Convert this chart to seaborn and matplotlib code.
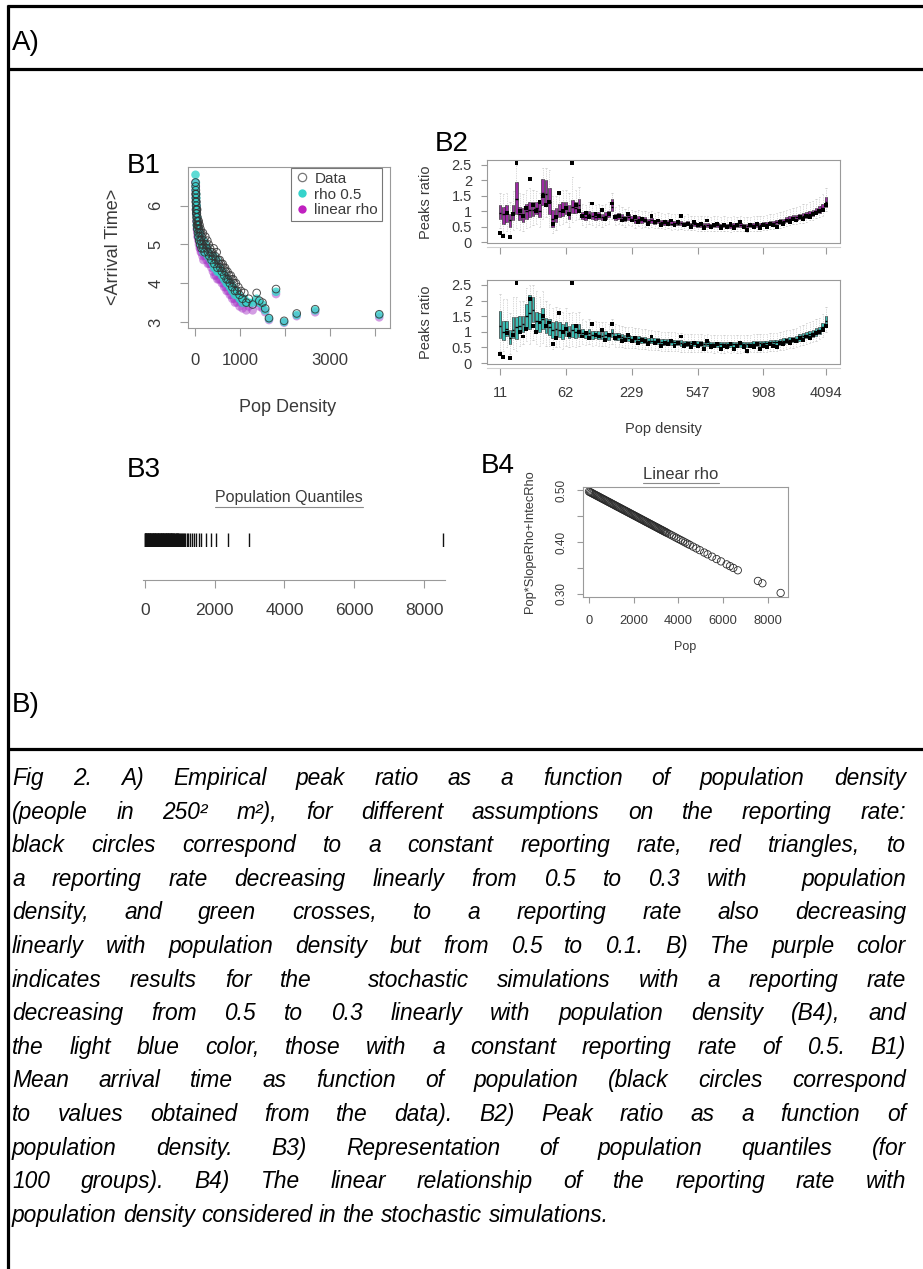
import numpy as np
import pandas as pd
import matplotlib
matplotlib.use("Agg")
import matplotlib.pyplot as plt
import seaborn as sns
from matplotlib.lines import Line2D

# ---------------------------------------------------------------- data
group_index = list(range(1, 101))
density_tick_index = [1, 21, 41, 61, 81, 100]
density_tick_labels = ["11", "62", "229", "547", "908", "4094"]

# B1 : population density of each of the 100 groups and mean arrival time
group_density = [
    11, 13, 15, 17, 19, 21, 23, 25, 27, 29,
    31, 33, 36, 38, 41, 44, 47, 50, 54, 58,
    62, 67, 72, 77, 82, 88, 94, 100, 107, 114,
    121, 129, 137, 146, 155, 165, 175, 186, 197, 213,
    229, 243, 258, 273, 288, 303, 318, 334, 350, 366,
    382, 398, 414, 430, 447, 464, 481, 498, 515, 531,
    547, 563, 579, 596, 613, 630, 648, 666, 684, 702,
    720, 738, 756, 774, 792, 810, 828, 848, 868, 888,
    908, 935, 962, 990, 1020, 1055, 1095, 1140, 1195, 1280,
    1370, 1430, 1500, 1560, 1644, 1800, 1980, 2260, 2670, 4094]
arrival_data = [
    6.6, 6.3, 6.5, 6.1, 6.4, 6.2, 5.9, 6.3, 5.8, 6.0,
    6.1, 5.7, 5.9, 5.6, 5.8, 5.5, 5.9, 5.4, 5.7, 5.5,
    5.6, 5.3, 5.5, 5.2, 5.6, 5.4, 5.1, 5.5, 5.3, 5.0,
    5.4, 5.1, 5.3, 4.9, 5.2, 5.0, 5.3, 4.9, 5.1, 4.8,
    5.2, 5.0, 4.9, 5.1, 4.8, 5.0, 4.7, 4.9, 4.8, 4.6,
    4.8, 4.7, 4.9, 4.5, 4.7, 4.6, 4.8, 4.4, 4.6, 4.5,
    4.6, 4.4, 4.5, 4.3, 4.5, 4.4, 4.2, 4.4, 4.3, 4.1,
    4.3, 4.1, 4.2, 4.0, 4.2, 4.1, 3.9, 4.1, 4.0, 3.8,
    4.0, 3.8, 3.9, 3.7, 3.8, 3.6, 3.75, 3.5, 3.6, 3.45,
    3.75, 3.55, 3.5, 3.35, 3.1, 3.85, 3.03, 3.22, 3.33, 3.2]
arrival_rho05 = [
    6.8, 6.5, 6.4, 6.2, 6.6, 6.0, 6.1, 6.3, 5.9, 6.2,
    5.9, 5.8, 6.0, 5.5, 5.7, 5.6, 5.7, 5.5, 5.5, 5.4,
    5.5, 5.4, 5.3, 5.3, 5.4, 5.2, 5.2, 5.3, 5.1, 5.1,
    5.2, 5.0, 5.1, 5.0, 5.0, 4.9, 5.1, 4.8, 4.9, 4.9,
    5.0, 4.9, 4.8, 4.9, 4.7, 4.8, 4.7, 4.7, 4.6, 4.6,
    4.6, 4.5, 4.7, 4.4, 4.5, 4.4, 4.6, 4.3, 4.4, 4.3,
    4.4, 4.3, 4.3, 4.2, 4.3, 4.2, 4.1, 4.2, 4.1, 4.0,
    4.1, 4.0, 4.0, 3.9, 4.0, 3.9, 3.8, 3.9, 3.8, 3.7,
    3.8, 3.7, 3.7, 3.6, 3.6, 3.5, 3.6, 3.5, 3.5, 3.5,
    3.6, 3.5, 3.45, 3.3, 3.08, 3.78, 3.0, 3.18, 3.3, 3.18]
arrival_linear = [
    6.6, 6.4, 6.2, 6.3, 6.5, 5.9, 6.0, 6.1, 5.8, 6.0,
    5.8, 5.6, 5.9, 5.4, 5.6, 5.5, 5.6, 5.3, 5.5, 5.2,
    5.4, 5.2, 5.2, 5.1, 5.3, 5.0, 5.1, 5.2, 4.9, 4.9,
    5.1, 4.8, 5.0, 4.8, 4.9, 4.7, 5.0, 4.6, 4.8, 4.7,
    4.9, 4.7, 4.6, 4.8, 4.5, 4.7, 4.5, 4.6, 4.5, 4.4,
    4.5, 4.3, 4.6, 4.2, 4.4, 4.2, 4.5, 4.1, 4.3, 4.1,
    4.3, 4.1, 4.2, 4.0, 4.2, 4.0, 3.9, 4.1, 3.9, 3.8,
    4.0, 3.8, 3.9, 3.7, 3.9, 3.7, 3.6, 3.8, 3.6, 3.5,
    3.7, 3.5, 3.6, 3.4, 3.5, 3.35, 3.5, 3.3, 3.4, 3.3,
    3.5, 3.4, 3.35, 3.25, 3.05, 3.72, 2.98, 3.15, 3.25, 3.12]

# B2 : empirical peak ratio (black dots) and simulated box summaries
peak_data = [
    0.30, 0.20, 0.95, 0.15, 0.90, 2.55, 1.00, 0.85, 1.10, 2.05,
    1.20, 1.00, 1.30, 1.50, 1.20, 1.30, 0.60, 0.80, 1.60, 1.00,
    1.10, 0.90, 2.55, 1.20, 1.00, 0.85, 0.95, 0.80, 1.25, 0.90,
    0.85, 1.05, 0.75, 0.90, 1.25, 0.80, 0.85, 0.70, 0.75, 0.90,
    0.70, 0.80, 0.65, 0.75, 0.70, 0.60, 0.85, 0.65, 0.70, 0.55,
    0.65, 0.60, 0.70, 0.55, 0.65, 0.85, 0.55, 0.60, 0.50, 0.65,
    0.55, 0.60, 0.45, 0.70, 0.50, 0.55, 0.60, 0.45, 0.55, 0.50,
    0.60, 0.45, 0.55, 0.65, 0.50, 0.40, 0.55, 0.50, 0.60, 0.45,
    0.55, 0.50, 0.60, 0.55, 0.50, 0.65, 0.60, 0.70, 0.65, 0.75,
    0.70, 0.80, 0.75, 0.85, 0.80, 0.90, 0.95, 1.00, 1.05, 1.20]

lin_lo = [
    0.45, 0.30, 0.35, 0.20, 0.40, 0.45, 0.40, 0.35, 0.45, 0.50,
    0.55, 0.60, 0.50, 0.75, 0.80, 0.50, 0.30, 0.40, 0.55, 0.60,
    0.65, 0.50, 0.65, 0.70, 0.75, 0.55, 0.50, 0.60, 0.55, 0.50,
    0.55, 0.50, 0.55, 0.60, 0.75, 0.55, 0.58, 0.55, 0.50, 0.55,
    0.52, 0.47, 0.52, 0.47, 0.49, 0.46, 0.48, 0.44, 0.46, 0.44,
    0.42, 0.44, 0.40, 0.42, 0.40, 0.42, 0.38, 0.40, 0.38, 0.39,
    0.37, 0.36, 0.37, 0.36, 0.35, 0.36, 0.36, 0.35, 0.36, 0.35,
    0.34, 0.36, 0.35, 0.36, 0.35, 0.34, 0.35, 0.36, 0.36, 0.37,
    0.38, 0.39, 0.41, 0.42, 0.44, 0.46, 0.48, 0.51, 0.54, 0.57,
    0.59, 0.61, 0.63, 0.66, 0.70, 0.72, 0.77, 0.80, 0.86, 1.00]
lin_q1 = [
    0.75, 0.60, 0.65, 0.50, 0.70, 0.90, 0.70, 0.65, 0.75, 0.80,
    0.85, 0.90, 0.80, 1.20, 1.20, 0.90, 0.50, 0.65, 0.80, 0.85,
    0.90, 0.75, 0.95, 0.95, 1.00, 0.75, 0.70, 0.80, 0.75, 0.70,
    0.75, 0.70, 0.75, 0.80, 1.00, 0.72, 0.76, 0.72, 0.68, 0.72,
    0.68, 0.63, 0.68, 0.63, 0.65, 0.61, 0.63, 0.59, 0.61, 0.59,
    0.56, 0.58, 0.54, 0.56, 0.54, 0.56, 0.52, 0.54, 0.51, 0.52,
    0.50, 0.49, 0.50, 0.49, 0.48, 0.49, 0.49, 0.48, 0.49, 0.48,
    0.47, 0.49, 0.48, 0.49, 0.48, 0.47, 0.48, 0.49, 0.49, 0.50,
    0.51, 0.52, 0.54, 0.55, 0.57, 0.59, 0.61, 0.64, 0.67, 0.70,
    0.72, 0.74, 0.76, 0.79, 0.83, 0.85, 0.90, 0.94, 1.00, 1.15]
lin_med = [
    0.95, 0.90, 0.95, 0.70, 0.95, 1.40, 0.90, 0.85, 1.00, 1.05,
    1.05, 1.10, 1.00, 1.60, 1.55, 1.30, 0.75, 0.85, 1.00, 1.05,
    1.10, 0.95, 1.15, 1.10, 1.20, 0.85, 0.80, 0.90, 0.85, 0.80,
    0.85, 0.80, 0.85, 0.90, 1.15, 0.80, 0.85, 0.80, 0.75, 0.80,
    0.75, 0.70, 0.75, 0.70, 0.72, 0.68, 0.70, 0.65, 0.67, 0.65,
    0.62, 0.64, 0.60, 0.62, 0.60, 0.62, 0.58, 0.60, 0.57, 0.58,
    0.56, 0.55, 0.56, 0.55, 0.54, 0.55, 0.55, 0.54, 0.55, 0.54,
    0.53, 0.55, 0.54, 0.55, 0.54, 0.53, 0.54, 0.55, 0.55, 0.56,
    0.57, 0.58, 0.60, 0.62, 0.64, 0.66, 0.68, 0.72, 0.75, 0.78,
    0.80, 0.82, 0.85, 0.88, 0.92, 0.95, 1.00, 1.05, 1.12, 1.30]
lin_q3 = [
    1.20, 1.15, 1.20, 0.90, 1.20, 1.95, 1.15, 1.10, 1.25, 1.30,
    1.30, 1.30, 1.25, 2.05, 2.00, 1.75, 1.05, 1.10, 1.25, 1.30,
    1.30, 1.20, 1.35, 1.30, 1.40, 0.98, 0.92, 1.02, 0.97, 0.92,
    0.97, 0.92, 0.97, 1.02, 1.40, 0.90, 0.95, 0.90, 0.84, 0.90,
    0.83, 0.78, 0.83, 0.78, 0.80, 0.75, 0.78, 0.72, 0.74, 0.72,
    0.69, 0.71, 0.67, 0.69, 0.67, 0.69, 0.64, 0.67, 0.63, 0.64,
    0.62, 0.61, 0.62, 0.61, 0.60, 0.61, 0.61, 0.60, 0.61, 0.60,
    0.59, 0.61, 0.60, 0.61, 0.60, 0.59, 0.60, 0.61, 0.61, 0.62,
    0.64, 0.65, 0.67, 0.69, 0.72, 0.74, 0.76, 0.80, 0.83, 0.87,
    0.89, 0.91, 0.94, 0.97, 1.01, 1.05, 1.10, 1.16, 1.24, 1.45]
lin_hi = [
    1.60, 1.55, 1.60, 1.30, 1.65, 2.50, 1.60, 1.55, 1.70, 1.75,
    1.70, 1.65, 1.60, 2.40, 2.40, 2.35, 1.50, 1.50, 1.65, 1.70,
    1.70, 1.60, 2.10, 1.70, 1.80, 1.25, 1.20, 1.30, 1.25, 1.20,
    1.25, 1.20, 1.25, 1.30, 1.60, 1.15, 1.20, 1.15, 1.08, 1.15,
    1.05, 1.00, 1.05, 1.00, 1.02, 0.98, 1.00, 0.95, 0.97, 0.95,
    0.92, 0.94, 0.90, 0.92, 0.90, 0.92, 0.86, 0.90, 0.85, 0.86,
    0.84, 0.83, 0.84, 0.83, 0.82, 0.83, 0.83, 0.82, 0.83, 0.82,
    0.81, 0.83, 0.82, 0.83, 0.82, 0.81, 0.82, 0.83, 0.83, 0.84,
    0.86, 0.88, 0.90, 0.92, 0.95, 0.98, 1.00, 1.05, 1.08, 1.12,
    1.15, 1.18, 1.22, 1.25, 1.30, 1.34, 1.40, 1.46, 1.55, 1.75]

r05_lo = [
    0.40, 0.40, 0.50, 0.30, 0.45, 0.40, 0.55, 0.60, 0.70, 0.60,
    0.75, 0.60, 0.55, 0.65, 0.55, 0.55, 0.45, 0.50, 0.50, 0.45,
    0.55, 0.50, 0.55, 0.50, 0.55, 0.60, 0.58, 0.60, 0.56, 0.58,
    0.56, 0.54, 0.56, 0.53, 0.60, 0.52, 0.51, 0.50, 0.49, 0.49,
    0.48, 0.47, 0.46, 0.45, 0.44, 0.43, 0.43, 0.41, 0.41, 0.40,
    0.40, 0.39, 0.38, 0.38, 0.38, 0.37, 0.37, 0.37, 0.36, 0.36,
    0.35, 0.35, 0.34, 0.35, 0.34, 0.33, 0.34, 0.33, 0.33, 0.34,
    0.33, 0.34, 0.33, 0.33, 0.34, 0.33, 0.34, 0.35, 0.35, 0.36,
    0.36, 0.37, 0.38, 0.39, 0.40, 0.41, 0.43, 0.45, 0.47, 0.49,
    0.51, 0.55, 0.58, 0.62, 0.64, 0.67, 0.71, 0.76, 0.85, 1.00]
r05_q1 = [
    0.80, 0.75, 0.88, 0.60, 0.80, 0.77, 0.95, 1.00, 1.15, 1.10,
    1.30, 1.05, 1.00, 1.10, 0.95, 0.90, 0.80, 0.85, 0.82, 0.78,
    0.88, 0.80, 0.85, 0.80, 0.85, 0.82, 0.80, 0.82, 0.78, 0.80,
    0.78, 0.76, 0.78, 0.75, 0.82, 0.74, 0.73, 0.71, 0.70, 0.70,
    0.68, 0.67, 0.66, 0.65, 0.64, 0.63, 0.63, 0.61, 0.61, 0.59,
    0.59, 0.58, 0.57, 0.57, 0.57, 0.56, 0.56, 0.56, 0.55, 0.55,
    0.54, 0.54, 0.53, 0.54, 0.53, 0.52, 0.53, 0.52, 0.52, 0.53,
    0.52, 0.53, 0.52, 0.52, 0.53, 0.52, 0.53, 0.54, 0.54, 0.55,
    0.55, 0.56, 0.57, 0.58, 0.59, 0.59, 0.61, 0.63, 0.65, 0.67,
    0.69, 0.72, 0.76, 0.79, 0.81, 0.84, 0.88, 0.93, 1.02, 1.20]
r05_med = [
    1.20, 1.00, 1.10, 0.80, 1.05, 1.15, 1.20, 1.25, 1.50, 1.60,
    1.70, 1.35, 1.30, 1.40, 1.20, 1.15, 1.05, 1.10, 1.05, 1.00,
    1.10, 1.00, 1.05, 1.00, 1.05, 0.95, 0.92, 0.95, 0.90, 0.92,
    0.90, 0.88, 0.90, 0.86, 0.95, 0.85, 0.84, 0.82, 0.80, 0.80,
    0.78, 0.77, 0.76, 0.75, 0.74, 0.72, 0.72, 0.70, 0.70, 0.68,
    0.68, 0.67, 0.66, 0.66, 0.65, 0.65, 0.64, 0.64, 0.63, 0.63,
    0.62, 0.62, 0.61, 0.62, 0.61, 0.60, 0.61, 0.60, 0.60, 0.61,
    0.60, 0.61, 0.60, 0.60, 0.61, 0.60, 0.61, 0.62, 0.62, 0.63,
    0.63, 0.64, 0.65, 0.66, 0.67, 0.68, 0.70, 0.72, 0.74, 0.76,
    0.78, 0.82, 0.86, 0.90, 0.92, 0.95, 1.00, 1.05, 1.15, 1.35]
r05_q3 = [
    1.68, 1.35, 1.36, 1.05, 1.47, 1.47, 1.50, 1.50, 1.90, 2.17,
    2.10, 1.65, 1.60, 1.75, 1.45, 1.40, 1.30, 1.35, 1.30, 1.25,
    1.32, 1.20, 1.25, 1.20, 1.25, 1.08, 1.04, 1.08, 1.02, 1.04,
    1.02, 1.00, 1.02, 0.97, 1.08, 0.96, 0.95, 0.93, 0.90, 0.90,
    0.88, 0.87, 0.86, 0.85, 0.84, 0.81, 0.81, 0.79, 0.79, 0.77,
    0.77, 0.76, 0.75, 0.75, 0.73, 0.74, 0.72, 0.72, 0.71, 0.71,
    0.70, 0.70, 0.69, 0.70, 0.69, 0.68, 0.69, 0.68, 0.68, 0.69,
    0.68, 0.69, 0.68, 0.68, 0.69, 0.68, 0.69, 0.70, 0.70, 0.71,
    0.71, 0.72, 0.73, 0.74, 0.75, 0.77, 0.79, 0.81, 0.83, 0.85,
    0.87, 0.92, 0.96, 1.01, 1.03, 1.06, 1.12, 1.17, 1.28, 1.50]
r05_hi = [
    2.20, 2.05, 2.05, 1.60, 2.10, 2.10, 2.00, 2.00, 2.40, 2.50,
    2.50, 2.30, 2.10, 2.30, 2.00, 1.90, 1.75, 1.80, 1.75, 1.65,
    1.75, 1.60, 1.65, 1.60, 1.65, 1.40, 1.35, 1.40, 1.32, 1.35,
    1.32, 1.30, 1.32, 1.26, 1.40, 1.24, 1.22, 1.20, 1.16, 1.16,
    1.14, 1.13, 1.12, 1.10, 1.09, 1.06, 1.06, 1.03, 1.03, 1.01,
    1.00, 0.99, 0.98, 0.98, 0.96, 0.96, 0.94, 0.94, 0.93, 0.93,
    0.92, 0.92, 0.91, 0.92, 0.91, 0.90, 0.91, 0.90, 0.90, 0.91,
    0.90, 0.91, 0.90, 0.90, 0.91, 0.90, 0.91, 0.92, 0.92, 0.93,
    0.93, 0.94, 0.95, 0.96, 0.97, 1.00, 1.02, 1.05, 1.07, 1.10,
    1.12, 1.18, 1.22, 1.28, 1.30, 1.34, 1.40, 1.45, 1.58, 1.80]

# B3 : population quantiles (100 groups)
pop_quantiles = [
    2, 10, 20, 30, 40, 50, 60, 70, 80, 92,
    104, 116, 128, 140, 152, 164, 176, 188, 200, 212,
    224, 236, 248, 260, 272, 284, 296, 308, 320, 332,
    344, 356, 368, 380, 392, 404, 416, 428, 440, 452,
    464, 476, 488, 500, 512, 524, 536, 548, 560, 572,
    584, 596, 608, 620, 632, 644, 656, 668, 680, 692,
    704, 716, 728, 740, 752, 766, 780, 794, 808, 822,
    836, 850, 866, 882, 898, 914, 930, 948, 966, 984,
    1005, 1030, 1060, 1090, 1125, 1160, 1200, 1250, 1300, 1360,
    1420, 1476, 1550, 1620, 1760, 1900, 2048, 2381, 3000, 8543]

# B4 : linear reporting rate against population
b4_pop = [
    0, 50, 100, 150, 200, 250, 300, 350, 400, 450,
    500, 550, 600, 650, 700, 750, 800, 850, 900, 950,
    1000, 1050, 1100, 1150, 1200, 1250, 1300, 1350, 1400, 1450,
    1500, 1550, 1600, 1650, 1700, 1750, 1800, 1850, 1900, 1950,
    2000, 2050, 2100, 2150, 2200, 2250, 2300, 2350, 2400, 2450,
    2500, 2550, 2600, 2650, 2700, 2750, 2800, 2850, 2900, 2950,
    3000, 3050, 3100, 3150, 3200, 3250, 3300, 3350, 3400, 3450,
    3500, 3600, 3700, 3800, 3900, 4000, 4100, 4200, 4300, 4400,
    4500, 4650, 4800, 4950, 5150, 5300, 5500, 5700, 5900, 6150,
    6300, 6450, 6650, 7550, 7750, 8565]
b4_rho = [
    0.4970, 0.4959, 0.4947, 0.4936, 0.4924, 0.4913, 0.4902, 0.4890, 0.4879, 0.4868,
    0.4856, 0.4845, 0.4833, 0.4822, 0.4811, 0.4799, 0.4788, 0.4776, 0.4765, 0.4754,
    0.4742, 0.4731, 0.4720, 0.4708, 0.4697, 0.4685, 0.4674, 0.4663, 0.4651, 0.4640,
    0.4628, 0.4617, 0.4606, 0.4594, 0.4583, 0.4572, 0.4560, 0.4549, 0.4537, 0.4526,
    0.4515, 0.4503, 0.4492, 0.4481, 0.4469, 0.4458, 0.4446, 0.4435, 0.4424, 0.4412,
    0.4401, 0.4389, 0.4378, 0.4367, 0.4355, 0.4344, 0.4333, 0.4321, 0.4310, 0.4298,
    0.4287, 0.4276, 0.4264, 0.4253, 0.4241, 0.4230, 0.4219, 0.4207, 0.4196, 0.4185,
    0.4173, 0.4150, 0.4128, 0.4105, 0.4082, 0.4059, 0.4037, 0.4014, 0.3991, 0.3968,
    0.3946, 0.3911, 0.3877, 0.3843, 0.3797, 0.3763, 0.3718, 0.3672, 0.3627, 0.3570,
    0.3536, 0.3501, 0.3456, 0.3251, 0.3206, 0.3020]

caption_lines = [
    "Fig 2. A) Empirical peak ratio as a function of population density",
    "(people in 250\u00b2 m\u00b2), for different assumptions on the reporting rate:",
    "black circles correspond to a constant reporting rate, red triangles, to",
    "a reporting rate decreasing linearly from 0.5 to 0.3 with  population",
    "density, and green crosses, to a reporting rate also decreasing",
    "linearly with population density but from 0.5 to 0.1. B) The purple color",
    "indicates results for the  stochastic simulations with a reporting rate",
    "decreasing from 0.5 to 0.3 linearly with population density (B4), and",
    "the light blue color, those with a constant reporting rate of 0.5. B1)",
    "Mean arrival time as function of population (black circles correspond",
    "to values obtained from the data). B2) Peak ratio as a function of",
    "population density. B3) Representation of population quantiles (for",
    "100 groups). B4) The linear relationship of the reporting rate with",
    "population density considered in the stochastic simulations.",
]

# ---------------------------------------------------------------- style
W, H = 923, 1269
sns.set_style("ticks")
plt.rcParams["font.family"] = ["Liberation Sans", "DejaVu Sans"]

CYAN = "#35d3cb"
MAG = "#a93cc8"
PURPLE = "#9c2aa3"
TEAL = "#3bbdb3"
AXG = "#9a9a9a"
TXT = "#3a3a3a"

fig = plt.figure(figsize=(W / 100, H / 100), dpi=100)


def px_axes(l, t, r, b):
    return fig.add_axes([l / W, 1 - b / H, (r - l) / W, (b - t) / H])


def ftext(x, y, s, **kw):
    return fig.text(x / W, 1 - y / H, s, **kw)


def style_axes(ax, tick_len_px=8, labelsize=10, pad=6):
    for s in ax.spines.values():
        s.set_visible(True)
        s.set_color(AXG)
        s.set_linewidth(0.8)
    ax.tick_params(direction="out", length=tick_len_px / 1.389, width=0.8,
                   color=AXG, labelcolor=TXT, labelsize=labelsize, pad=pad)
    ax.set_xlabel("")
    ax.set_ylabel("")
    ax.grid(False)


# ---------------------------------------------------------------- frame
def fline(x0, y0, x1, y1, lw=2.3):
    fig.add_artist(Line2D([x0 / W, x1 / W], [1 - y0 / H, 1 - y1 / H],
                          transform=fig.transFigure, color="black", lw=lw,
                          solid_capstyle="butt"))


fline(6.5, 6, W, 6)
fline(6.5, 69, W, 69)
fline(6.5, 748.5, W, 748.5)
fline(8, 4.5, 8, H)

ftext(12, 50, "A)", fontsize=20, color="black", va="baseline")
ftext(12, 712, "B)", fontsize=20, color="black", va="baseline")

# ---------------------------------------------------------------- B1
ax1 = px_axes(188, 167, 390, 328)
sns.scatterplot(x=group_density, y=arrival_linear, color=MAG, alpha=0.5, s=38,
                edgecolor="none", ax=ax1, legend=False)
sns.scatterplot(x=group_density, y=arrival_rho05, color=CYAN, alpha=0.8, s=38,
                edgecolor="none", ax=ax1, legend=False)
sns.scatterplot(x=group_density, y=arrival_data, color="#333333", s=30,
                linewidth=0.7, ax=ax1, legend=False)
ax1.collections[-1].set_facecolor("none")
ax1.collections[-1].set_edgecolor("#333333")
ax1.collections[-1].set_alpha(0.85)
style_axes(ax1, tick_len_px=8, labelsize=12, pad=12)
ax1.set_xlim(-156, 4333)
ax1.set_ylim(2.845, 7.0)
ax1.set_xticks([0, 1000, 2000, 3000, 4000], ["0", "1000", "", "3000", ""])
ax1.set_yticks([3, 4, 5, 6], ["3", "4", "5", "6"], rotation=90, va="center")
handles = [
    Line2D([], [], marker="o", ls="none", mfc="none", mec="#777777", ms=6, mew=0.9),
    Line2D([], [], marker="o", ls="none", mfc=CYAN, mec="none", ms=6),
    Line2D([], [], marker="o", ls="none", mfc="#c020c0", mec="none", ms=6),
]
leg = ax1.legend(handles, ["Data", "rho 0.5", "linear rho"], loc="upper right",
                 bbox_to_anchor=(0.96, 0.994), borderaxespad=0, frameon=True,
                 fancybox=False, edgecolor="#777777", framealpha=1,
                 borderpad=0.25, handletextpad=0.3, labelspacing=0.12,
                 handlelength=1.0, fontsize=11)
leg.get_frame().set_linewidth(0.8)
for t in leg.get_texts():
    t.set_color(TXT)
ftext(127, 173, "B1", fontsize=20, color="black", va="baseline")
ftext(288, 412, "Pop Density", fontsize=13, color=TXT, ha="center", va="baseline")
ftext(113, 247, "<Arrival Time>", fontsize=13, color=TXT, ha="center",
      va="center", rotation=90)

# ---------------------------------------------------------------- B2


def draw_b2(ax, lo, q1, med, q3, hi, color, show_labels):
    df = pd.DataFrame({
        "group": np.repeat(group_index, 5),
        "value": np.column_stack([lo, q1, med, q3, hi]).ravel(),
    })
    sns.boxplot(data=df, x="group", y="value", native_scale=True, color=color,
                saturation=1, width=0.8, whis=(0, 100), showfliers=False,
                linewidth=0.45, linecolor="#2a2a2a",
                medianprops=dict(color="black", linewidth=1.0),
                whiskerprops=dict(color="#b5b5b5", linestyle=(0, (1, 1.5)), linewidth=0.5),
                capprops=dict(color="#b5b5b5", linewidth=0.4), ax=ax)
    sns.scatterplot(x=group_index, y=peak_data, color="black", s=8, marker="s",
                    edgecolor="none", ax=ax, legend=False, zorder=5)
    style_axes(ax, tick_len_px=6, labelsize=10.5, pad=6.5)
    ax.set_xlim(-2.95, 104.25)
    ax.set_ylim(-0.03, 2.66)
    ax.spines["bottom"].set_position(("outward", 3))
    ax.spines["bottom"].set_color("#d0d0d0")
    ax.plot([0, 1], [0, 0], transform=ax.transAxes, color=AXG, lw=0.8,
            clip_on=False)
    ax.set_yticks([0, 0.5, 1, 1.5, 2, 2.5], ["0", "0.5", "1", "1.5", "2", "2.5"])
    ax.tick_params(axis="x", length=7 / 1.389, pad=8)
    if show_labels:
        ax.set_xticks(density_tick_index, density_tick_labels)
    else:
        ax.set_xticks(density_tick_index, [""] * len(density_tick_index))
    ax.set_xlabel("")
    ax.set_ylabel("")


ax2a = px_axes(487, 160, 840, 243)
draw_b2(ax2a, lin_lo, lin_q1, lin_med, lin_q3, lin_hi, PURPLE, False)
ax2b = px_axes(487, 280, 840, 364)
draw_b2(ax2b, r05_lo, r05_q1, r05_med, r05_q3, r05_hi, TEAL, True)
ftext(435, 151, "B2", fontsize=20, color="black", va="baseline")
ftext(663, 433, "Pop density", fontsize=10.5, color=TXT, ha="center", va="baseline")
ftext(426, 202, "Peaks ratio", fontsize=10.5, color=TXT, ha="center", va="center",
      rotation=90)
ftext(426, 322, "Peaks ratio", fontsize=10.5, color=TXT, ha="center", va="center",
      rotation=90)

# ---------------------------------------------------------------- B3
ax3 = px_axes(143, 505, 445, 580)
ax3.set_facecolor("none")
for name, s in ax3.spines.items():
    s.set_visible(name == "bottom")
    s.set_color(AXG)
    s.set_linewidth(0.8)
ax3.set_yticks([])
ax3.set_xlim(-50, 8600)
ax3.set_xticks([0, 2000, 4000, 6000, 8000], ["0", "2000", "4000", "6000", "8000"])
ax3.tick_params(axis="x", direction="out", length=8 / 1.389, width=0.8,
                color=AXG, labelcolor=TXT, labelsize=12.5, pad=11)
ax3r = px_axes(143, 533, 445, 547)
sns.rugplot(x=pop_quantiles, height=1, ax=ax3r, color="#111111", linewidth=1.0,
            expand_margins=False)
ax3r.set_xlim(-50, 8600)
ax3r.set_ylim(0, 1)
ax3r.axis("off")
ftext(127, 477, "B3", fontsize=20, color="black", va="baseline")
t3 = ftext(289, 502, "Population Quantiles", fontsize=11.5, color=TXT,
           ha="center", va="baseline")

# ---------------------------------------------------------------- B4
ax4 = px_axes(583, 487, 788, 597)
sns.scatterplot(x=b4_pop, y=b4_rho, s=28, color="#333333", linewidth=0.6,
                ax=ax4, legend=False)
ax4.collections[-1].set_facecolor("none")
ax4.collections[-1].set_edgecolor("#2a2a2a")
style_axes(ax4, tick_len_px=6, labelsize=9.3, pad=8.5)
ax4.set_xlim(-268, 8894)
ax4.set_ylim(0.2942, 0.5058)
ax4.set_xticks([0, 2000, 4000, 6000, 8000], ["0", "2000", "4000", "6000", "8000"])
ax4.set_yticks([0.30, 0.35, 0.40, 0.45, 0.50], ["0.30", "", "0.40", "", "0.50"],
               rotation=90, va="center")
ax4.tick_params(axis="y", labelsize=8.5, pad=7)
ftext(481, 473, "B4", fontsize=20, color="black", va="baseline")
t4 = ftext(681, 479, "Linear rho", fontsize=12, color=TXT, ha="center",
           va="baseline")
ftext(530, 542, "Pop*SlopeRho+IntecRho", fontsize=9.3, color=TXT, ha="center",
      va="center", rotation=90)
ftext(685, 650, "Pop", fontsize=9, color=TXT, ha="center", va="baseline")

# ---------------------------------------------------------------- caption
fig.canvas.draw()
renderer = fig.canvas.get_renderer()

# underline the two plot titles
for t in (t3, t4):
    bb = t.get_window_extent(renderer)
    y_line = H - bb.y0 + 1.5
    fig.add_artist(Line2D([bb.x0 / W, bb.x1 / W], [1 - y_line / H, 1 - y_line / H],
                          transform=fig.transFigure, color="#8a8a8a", lw=0.8))

CAP_FS = 16.4
cap_font = dict(fontsize=CAP_FS, style="italic", color="black", va="baseline",
                ha="left")
x_left, x_right = 12.0, 906.0
probe = ftext(0, 0, "a b", **cap_font)
w_ab = probe.get_window_extent(renderer).width
probe.set_text("ab")
space_w = w_ab - probe.get_window_extent(renderer).width
probe.remove()
for k, line in enumerate(caption_lines):
    y = 785 + 33.6 * k
    words = line.split(" ")
    texts, widths = [], []
    for w in words:
        t = ftext(0, y, w, **cap_font)
        texts.append(t)
        widths.append(t.get_window_extent(renderer).width if w else 0.0)
    if k < len(caption_lines) - 1 and len(words) > 1:
        gap = (x_right - x_left - sum(widths)) / (len(words) - 1)
    else:
        gap = space_w
    x = x_left
    for t, wd in zip(texts, widths):
        t.set_x(x / W)
        x += wd + gap

fig.savefig("out.png", dpi=100)
